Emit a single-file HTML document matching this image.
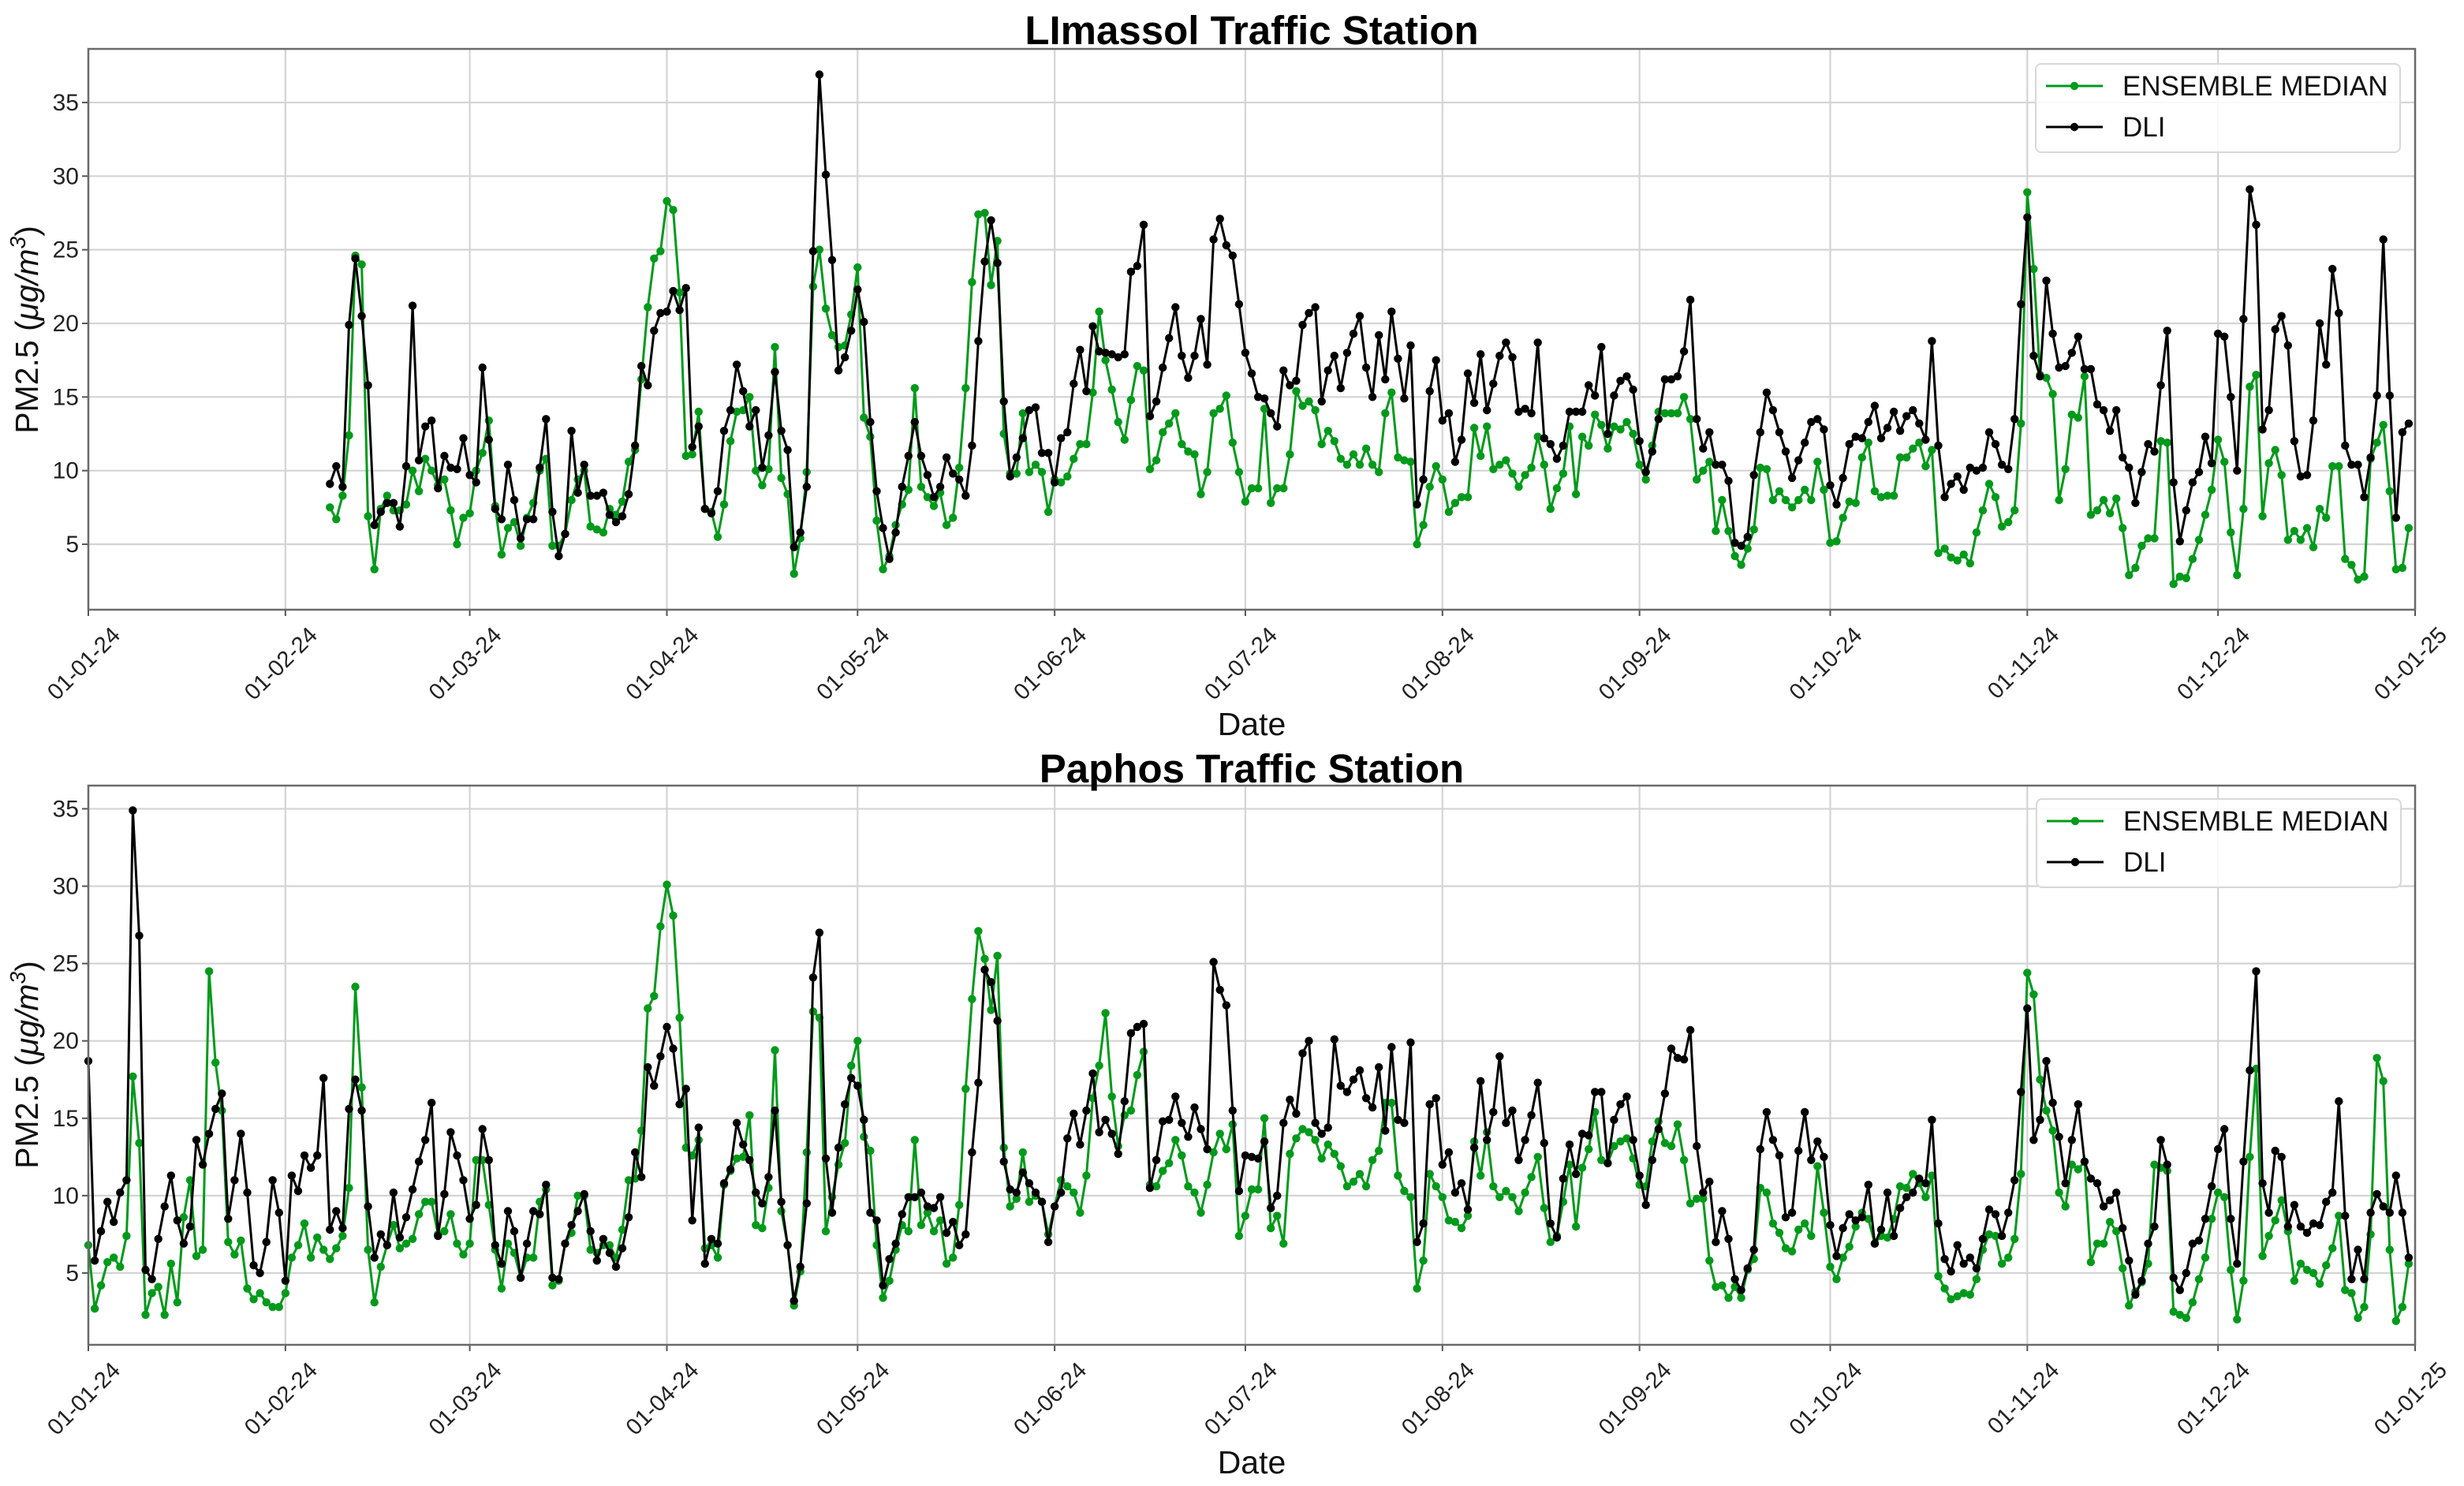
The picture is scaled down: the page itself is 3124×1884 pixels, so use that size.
<!DOCTYPE html>
<html><head><meta charset="utf-8"><title>PM2.5 Traffic Stations</title>
<style>
html,body{margin:0;padding:0;background:#fff;}
svg{display:block;font-family:"Liberation Sans","DejaVu Sans",sans-serif;}
</style></head>
<body>
<svg id="fig" width="3124" height="1884" viewBox="0 0 3124 1884" xmlns="http://www.w3.org/2000/svg">
<rect width="3124" height="1884" fill="#fff"/>
</svg>
<script>
const xTickDays = [0,31,60,91,121,152,182,213,244,274,305,335,366];
const xTickLabels = ["01-01-24","01-02-24","01-03-24","01-04-24","01-05-24","01-06-24","01-07-24","01-08-24","01-09-24","01-10-24","01-11-24","01-12-24","01-01-25"];
const yTicks = [5,10,15,20,25,30,35];
const seriesNames = ["ENSEMBLE MEDIAN","DLI"];
const limStartDay = 38;
const limEns = [7.5,6.7,8.3,12.4,24.6,24.0,6.9,3.3,7.4,8.3,7.3,7.3,7.7,10.0,8.6,10.8,10.0,9.0,9.4,7.3,5.0,6.8,7.1,10.0,11.2,13.4,7.6,4.3,6.1,6.5,4.9,6.8,7.8,10.0,10.8,4.9,4.9,5.7,8.0,9.4,10.0,6.2,6.0,5.8,7.4,7.0,7.9,10.6,11.4,16.2,21.1,24.4,24.9,28.3,27.7,22.1,11.0,11.1,14.0,7.4,7.2,5.5,7.7,12.0,14.0,14.1,15.0,10.0,9.0,10.1,18.4,9.5,8.4,3.0,5.4,9.9,22.5,25.0,21.0,19.2,18.4,18.5,20.6,23.8,13.6,12.3,6.6,3.3,4.2,6.3,7.7,8.7,15.6,8.9,8.2,7.6,8.5,
6.3,6.8,10.2,15.6,22.8,27.4,27.5,22.6,25.6,12.5,9.8,9.8,13.9,9.9,10.4,9.9,7.2,9.4,9.2,9.6,10.8,11.8,11.8,15.3,20.8,17.5,15.5,13.3,12.1,14.8,17.1,16.8,10.1,10.7,12.6,13.2,13.9,11.8,11.3,11.1,8.4,9.9,13.9,14.2,15.1,11.9,9.9,7.9,8.8,8.8,14.2,7.8,8.8,8.8,11.1,15.4,14.4,14.7,14.1,11.8,12.7,12.0,10.8,10.4,11.1,10.4,11.5,10.4,9.9,13.9,15.3,10.9,10.7,10.6,5.0,6.3,8.9,10.3,9.4,7.2,7.8,8.2,8.2,12.9,11.0,13.0,10.1,10.4,10.7,9.8,8.9,9.7,10.2,12.3,10.4,7.4,8.8,9.8,13.0,8.4,12.3,11.7,13.8,13.1,11.5,13.0,12.8,13.3,12.5,10.4,9.4,11.7,14.0,13.9,13.9,13.9,15.0,13.5,9.4,10.0,10.6,5.9,8.0,5.9,
4.2,3.6,4.7,6.0,10.2,10.1,8.0,8.6,8.0,7.5,8.0,8.7,8.0,10.6,8.7,5.1,5.2,6.8,7.9,7.8,10.9,11.9,8.6,8.2,8.3,8.3,10.9,10.9,11.5,11.9,10.3,11.4,4.4,4.7,4.1,3.9,4.3,3.7,5.8,7.3,9.1,8.2,6.2,6.5,7.3,13.2,28.9,23.7,16.5,16.3,15.2,8.0,10.1,13.8,13.6,16.4,7.0,7.3,8.0,7.1,8.1,6.1,2.9,3.4,4.9,5.4,5.4,12.0,11.9,2.3,2.8,2.7,4.0,5.3,7.0,8.7,12.1,10.6,5.8,2.9,7.4,15.7,16.5,6.9,10.5,11.4,9.7,5.3,5.9,5.3,6.1,4.8,7.4,6.8,10.3,10.3,4.0,3.6,2.6,2.8,10.8,11.9,13.1,8.6,3.3,3.4,6.1];
const limDli = [9.1,10.3,8.9,19.9,24.4,20.5,15.8,6.3,7.2,7.8,7.8,6.2,10.3,21.2,10.7,13.0,13.4,8.8,11.0,10.2,10.1,12.2,9.7,9.2,17.0,12.1,7.4,6.7,10.4,8.0,5.4,6.7,6.7,10.2,13.5,7.2,4.2,5.7,12.7,8.5,10.4,8.3,8.3,8.5,7.0,6.5,6.9,8.4,11.7,17.1,15.8,19.5,20.7,20.8,22.2,20.9,22.4,11.6,13.0,7.4,7.1,8.6,12.7,14.1,17.2,15.4,13.0,14.1,10.2,12.4,16.7,12.7,11.4,4.8,5.8,8.9,24.9,36.9,30.1,24.3,16.8,17.7,19.5,22.3,20.1,13.3,8.6,6.1,4.0,5.8,8.9,11.0,13.3,11.0,9.7,8.2,8.9,
10.9,9.8,9.4,8.3,11.7,18.8,24.2,27.0,24.1,14.7,9.6,10.9,12.2,14.1,14.3,11.2,11.2,9.2,12.2,12.6,15.9,18.2,15.4,19.8,18.1,18.0,17.9,17.7,17.9,23.5,23.9,26.7,13.7,14.7,17.0,19.0,21.1,17.8,16.3,17.8,20.3,17.2,25.7,27.1,25.3,24.6,21.3,18.0,16.6,15.0,14.9,13.9,13.0,16.8,15.8,16.1,19.9,20.7,21.1,14.7,16.8,17.8,15.6,18.0,19.3,20.5,17.0,15.0,19.2,16.2,20.8,17.6,14.9,18.5,7.7,9.4,15.4,17.5,13.4,13.9,10.6,12.1,16.6,14.6,17.9,14.1,15.9,17.8,18.7,17.7,14.0,14.2,13.9,18.7,12.2,11.8,10.8,11.7,14.0,14.0,14.0,15.8,15.1,18.4,12.5,15.1,16.1,16.4,15.5,12.0,9.9,11.3,13.5,16.2,16.2,16.4,18.1,21.6,13.5,11.5,12.6,10.4,10.4,9.3,
5.1,4.9,5.5,9.7,12.6,15.3,14.1,12.6,11.3,9.5,10.7,11.9,13.3,13.5,12.8,9.0,7.7,9.5,11.8,12.3,12.2,13.3,14.4,12.2,12.9,14.0,12.7,13.7,14.1,13.2,12.1,18.8,11.7,8.2,9.1,9.6,8.7,10.2,10.0,10.2,12.6,11.8,10.4,10.1,13.5,21.3,27.2,17.8,16.4,22.9,19.3,17.0,17.1,18.0,19.1,16.9,16.9,14.5,14.1,12.7,14.1,10.9,10.2,7.8,9.9,11.8,11.3,15.8,19.5,9.2,5.2,7.3,9.2,9.9,12.3,10.5,19.3,19.1,15.0,10.0,20.3,29.1,26.7,12.8,14.1,19.6,20.5,18.5,12.0,9.6,9.7,13.4,20.0,17.2,23.7,20.7,11.7,10.4,10.4,8.2,10.9,15.1,25.7,15.1,6.8,12.6,13.2];
const papStartDay = 0;
const papEns = [6.8,2.7,4.2,5.7,6.0,5.4,7.4,17.7,13.4,2.3,3.7,4.1,2.3,5.6,3.1,8.6,11.0,6.1,6.5,24.5,18.6,15.5,7.0,6.2,7.1,4.0,3.3,3.7,3.1,2.8,2.8,3.7,6.0,6.8,8.2,6.0,7.3,6.5,5.9,6.6,7.4,10.5,23.5,17.0,6.5,3.1,5.4,6.8,8.1,6.6,6.9,7.2,8.8,9.6,9.6,7.5,7.7,8.8,6.9,6.2,6.9,12.3,12.3,9.4,6.5,4.0,6.9,6.3,4.7,6.0,6.0,9.6,10.4,4.2,4.5,6.9,7.6,10.0,10.0,6.5,6.3,6.8,6.8,6.0,7.8,11.0,11.1,14.2,22.1,22.9,27.4,30.1,28.1,21.5,13.1,12.6,13.6,6.6,6.8,6.0,10.7,11.6,12.4,12.5,15.2,8.1,7.9,10.5,19.4,9.0,6.8,2.9,5.1,12.8,21.9,21.5,7.7,9.9,12.0,13.4,18.4,20.0,13.8,12.9,6.8,3.4,4.5,6.5,8.1,7.7,13.6,8.1,8.9,7.7,8.4,5.6,6.0,9.4,16.9,22.7,27.1,25.3,22.0,25.5,13.1,9.3,9.8,12.8,9.6,10.0,9.6,7.5,9.3,11.0,10.6,10.2,8.9,11.3,16.3,18.4,21.8,16.4,13.2,15.2,15.5,17.8,19.3,10.7,10.6,11.6,12.1,13.6,12.6,10.6,10.2,8.9,10.7,12.8,14.0,13.0,14.6,7.4,8.7,10.4,
10.4,15.0,7.9,8.7,6.9,12.7,13.7,14.3,14.1,13.6,12.4,13.3,12.7,11.9,10.6,10.9,11.4,10.6,12.3,12.9,16.0,16.0,11.3,10.3,9.9,4.0,5.8,11.4,10.6,9.9,8.4,8.3,7.9,8.7,13.5,11.3,14.1,10.6,9.9,10.3,9.9,9.0,10.2,11.2,12.5,9.2,7.0,7.4,9.6,12.0,8.0,11.8,13.0,15.4,12.3,12.1,13.2,13.5,13.7,12.4,10.7,10.6,13.5,14.8,13.4,13.2,14.6,12.3,9.5,9.8,9.8,5.8,4.1,4.2,3.4,4.1,3.4,5.2,5.9,10.5,10.2,8.2,7.6,6.6,6.4,7.8,8.2,7.4,11.9,8.9,5.4,4.6,6.0,6.7,8.0,8.9,8.5,6.9,7.4,7.3,8.5,10.6,10.5,11.4,10.8,9.9,11.3,4.8,4.0,3.3,3.5,3.7,3.6,4.6,6.5,7.5,7.4,5.6,6.0,7.2,11.4,24.4,23.0,17.5,15.5,14.2,10.2,9.3,12.0,11.7,12.2,5.7,6.9,6.9,8.3,7.7,5.3,2.9,3.8,4.4,5.6,12.0,11.8,11.6,2.5,2.3,2.1,3.1,4.6,6.0,8.5,10.2,9.9,5.2,2.0,4.5,12.5,18.2,6.1,7.4,8.4,9.7,7.7,4.5,5.6,5.2,5.0,4.3,5.5,6.6,8.7,3.9,3.7,2.1,2.8,7.5,18.9,17.4,6.5,1.9,2.8,5.6];
const papDli = [18.7,5.8,7.7,9.6,8.3,10.2,11.0,34.9,26.8,5.2,4.6,7.2,9.3,11.3,8.4,6.9,8.0,13.6,12.0,14.0,15.6,16.6,8.5,11.0,14.0,10.2,5.5,5.0,7.0,11.0,8.9,4.5,11.3,10.3,12.6,11.8,12.6,17.6,7.8,9.0,7.9,15.6,17.5,15.5,9.3,6.0,7.5,6.8,10.2,7.3,8.6,10.4,12.2,13.6,16.0,7.4,10.1,14.1,12.6,11.0,8.5,9.4,14.3,12.3,6.8,5.6,9.0,7.7,4.7,6.9,9.0,8.8,10.7,4.7,4.6,6.9,8.1,9.0,10.1,7.7,5.8,7.2,6.3,5.4,6.6,8.6,12.8,11.2,18.3,17.1,19.0,20.9,19.5,15.9,16.9,8.4,14.4,5.6,7.2,6.9,10.8,11.7,14.7,13.3,12.3,10.2,9.5,11.2,15.5,9.6,6.8,3.2,5.4,9.5,24.1,27.0,12.4,8.9,13.1,15.9,17.6,17.1,14.9,8.9,8.4,4.2,5.9,6.9,8.8,9.9,9.9,10.2,9.3,9.2,9.9,7.6,8.3,6.8,7.5,12.8,17.3,24.6,23.8,21.3,12.2,10.4,10.2,11.5,10.8,10.2,9.6,7.0,9.3,10.2,13.7,15.3,13.3,15.5,17.9,14.1,14.9,14.0,12.7,16.1,20.5,20.9,21.1,10.5,12.3,14.8,14.9,16.4,14.7,13.8,15.7,14.3,13.0,25.1,23.3,22.3,15.5,10.3,12.6,12.5,
12.4,13.5,9.2,10.0,14.7,16.2,15.3,19.2,20.0,14.7,14.0,14.4,20.1,17.1,16.7,17.5,18.1,16.3,15.7,18.3,14.2,19.6,14.9,14.7,19.9,7.0,8.2,15.9,16.3,12.0,12.8,10.2,10.8,9.1,13.1,17.4,13.6,15.4,19.0,14.7,15.5,12.3,13.6,15.2,17.3,13.4,8.2,7.3,11.1,13.3,11.4,14.0,13.9,16.7,16.7,12.1,14.9,15.9,16.4,13.6,11.3,9.4,12.3,14.3,16.6,19.5,18.9,18.8,20.7,13.2,10.2,10.9,7.0,9.0,7.2,4.6,3.9,5.3,6.5,13.0,15.4,13.6,12.6,8.6,8.9,12.9,15.4,12.3,13.5,12.5,8.1,6.1,7.9,8.8,8.4,8.6,10.7,6.9,7.8,10.2,7.4,9.2,9.9,10.2,11.1,10.8,14.9,8.2,5.9,5.1,6.8,5.6,6.0,5.3,7.2,9.1,8.8,7.4,8.9,11.0,16.7,22.1,13.6,14.9,18.7,16.0,13.8,10.8,13.6,15.9,12.2,11.1,10.8,9.3,9.7,10.2,7.9,5.8,3.6,4.5,6.9,8.0,13.6,12.0,4.7,3.9,5.0,6.9,7.1,8.5,10.6,13.0,14.3,8.5,5.6,12.2,18.1,24.5,10.8,8.9,12.9,12.5,8.0,9.4,8.0,7.6,8.2,8.1,9.6,10.2,16.1,8.7,4.6,6.5,4.6,8.9,10.1,9.3,8.9,11.3,8.9,6.0];

const NS = "http://www.w3.org/2000/svg";
const svg = document.getElementById("fig");
const GREEN = "#009a1a";
function mk(tag, attrs, parent) {
  const e = document.createElementNS(NS, tag);
  for (const k in attrs) e.setAttribute(k, attrs[k]);
  (parent || svg).appendChild(e);
  return e;
}

const panels = [
  {key:"limassol", title:"LImassol Traffic Station", left:112, right:3062, top:62, bottom:773, ymin:0.555, ymax:38.64,
   start:limStartDay, ens:limEns, dli:limDli, legend:{x:2581,y:81}, titleY:56, dateY:932, ylabelY:418},
  {key:"paphos", title:"Paphos Traffic Station", left:112, right:3062, top:996, bottom:1705, ymin:0.36, ymax:36.5,
   start:papStartDay, ens:papEns, dli:papDli, legend:{x:2582,y:1013}, titleY:992, dateY:1868, ylabelY:1350}
];

panels.forEach(p => {
  const g = mk("g", {});
  
  
  const xs = d => p.left + (p.right - p.left) * d / 366;
  const ys = v => p.bottom - (p.bottom - p.top) * (v - p.ymin) / (p.ymax - p.ymin);

  yTicks.forEach(t => {
    const l = mk("line", {x1:p.left, x2:p.right, y1:ys(t), y2:ys(t), stroke:"#d4d4d4", "stroke-width":2.2}, g);
    
    
  });
  xTickDays.forEach(d => {
    const l = mk("line", {x1:xs(d), x2:xs(d), y1:p.top, y2:p.bottom, stroke:"#d4d4d4", "stroke-width":2.2}, g);
    
    
  });
  yTicks.forEach(t => {
    mk("line", {x1:p.left-8, x2:p.left, y1:ys(t), y2:ys(t), stroke:"#555", "stroke-width":2}, g);
    const tx = mk("text", {x:p.left-12, y:ys(t)+10, "text-anchor":"end", "font-size":30, fill:"#222"}, g);
    tx.textContent = t;
    
    
  });
  xTickDays.forEach((d, i) => {
    mk("line", {x1:xs(d), x2:xs(d), y1:p.bottom, y2:p.bottom+8, stroke:"#555", "stroke-width":2}, g);
    const ax = xs(d) + 42, ay = p.bottom + 34;
    const tx = mk("text", {x:ax, y:ay, "text-anchor":"end", "font-size":29, fill:"#222", transform:`rotate(-45 ${ax} ${ay})`}, g);
    tx.textContent = xTickLabels[i];
    
    
  });
  const series = [{vals:p.ens, color:GREEN, name:"ensemble-median"}, {vals:p.dli, color:"#000", name:"dli"}];
  series.forEach(s => {
    const pts = s.vals.map((v, i) => xs(p.start + i).toFixed(1) + "," + ys(v).toFixed(1)).join(" ");
    const pl = mk("polyline", {points:pts, fill:"none", stroke:s.color, "stroke-width":3, "stroke-linejoin":"round"}, g);
    
    
    s.vals.forEach((v, i) => {
      const c = mk("circle", {cx:xs(p.start + i).toFixed(1), cy:ys(v).toFixed(1), r:5.2, fill:s.color}, g);
      
      
    });
  });
  const fr = mk("rect", {x:p.left, y:p.top, width:p.right-p.left, height:p.bottom-p.top, fill:"none", stroke:"#6a6a6a", "stroke-width":2.5}, g);
  
  
  const ti = mk("text", {x:(p.left+p.right)/2, y:p.titleY, "text-anchor":"middle", "font-size":51, "font-weight":"bold", fill:"#000"}, g);
  ti.textContent = p.title;
  
  
  const xl = mk("text", {x:(p.left+p.right)/2, y:p.dateY, "text-anchor":"middle", "font-size":41, fill:"#111"}, g);
  xl.textContent = "Date";
  
  
  const yl = mk("text", {x:0, y:0, "text-anchor":"middle", "font-size":41, fill:"#111", transform:`translate(48 ${p.ylabelY}) rotate(-90)`}, g);
  
  
  const t1 = mk("tspan", {}, yl); t1.textContent = "PM2.5 (";
  const t2 = mk("tspan", {"font-style":"italic"}, yl); t2.textContent = "μg/m";
  const t3 = mk("tspan", {"font-style":"italic", "font-size":28, dy:-16}, yl); t3.textContent = "3";
  const t4 = mk("tspan", {dy:16}, yl); t4.textContent = ")";
  const lg = mk("g", {}, g);
  
  
  mk("rect", {x:p.legend.x, y:p.legend.y, width:462, height:112, rx:7, fill:"#fff", "fill-opacity":0.85, stroke:"#d8d8d8", "stroke-width":2}, lg);
  [{c:GREEN, n:seriesNames[0], k:"ensemble-median"}, {c:"#000", n:seriesNames[1], k:"dli"}].forEach((e, i) => {
    const yy = p.legend.y + 28 + i * 52;
    const ent = mk("g", {}, lg);
    
    
    mk("line", {x1:p.legend.x+13, x2:p.legend.x+85, y1:yy, y2:yy, stroke:e.c, "stroke-width":3}, ent);
    mk("circle", {cx:p.legend.x+49, cy:yy, r:5.2, fill:e.c}, ent);
    const lt = mk("text", {x:p.legend.x+110, y:yy+12, "font-size":35, fill:"#111"}, ent);
    lt.textContent = e.n;
  });
});
</script>
</body></html>
